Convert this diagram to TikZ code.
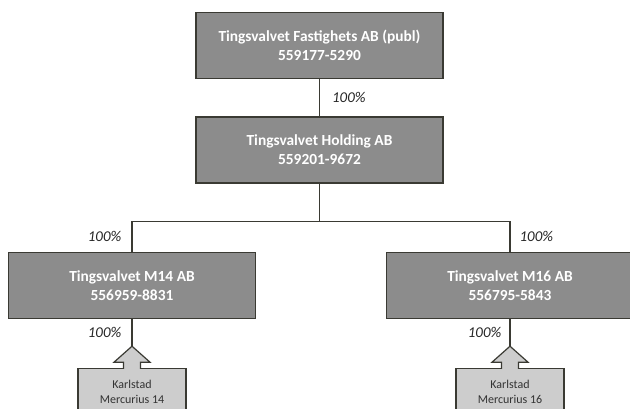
\documentclass[tikz,border=0pt]{standalone}
\usepackage{fontspec}
\setmainfont{Carlito}
\usepackage{xcolor}
\definecolor{lineDark}{HTML}{3A3A33}
\definecolor{companyFill}{HTML}{8C8C8C}
\definecolor{propertyFill}{HTML}{CDCDCD}
\usepackage{tikz}
\usetikzlibrary{positioning,calc}
\tikzset{%
  companyBox/.style={%
    rectangle,
    draw=lineDark,
    line width=1.4pt,
    fill=companyFill,
    text=white,
    font=\bfseries\fontsize{15.4}{18.5}\selectfont,
    align=center,
    minimum width=247pt,
    minimum height=66pt,
    inner sep=0pt
  },
  propertyBox/.style={%
    rectangle,
    draw=lineDark,
    line width=1.2pt,
    fill=propertyFill,
    text=black!80,
    font=\fontsize{12}{14.5}\selectfont,
    align=center,
    minimum width=108pt,
    minimum height=46pt,
    inner sep=0pt
  },
  ownLine/.style={%
    draw=lineDark,
    line width=1.2pt
  },
  shareLabel/.style={%
    font=\itshape\fontsize{15}{17}\selectfont,
    text=black!85,
    inner sep=0pt
  },
  upArrow/.style={%
    draw=lineDark,
    line width=1.2pt,
    fill=propertyFill,
    line join=miter
  }
}

\begin{document}
\begin{tikzpicture}[x=1pt,y=-1pt]
            \useasboundingbox (0,0) rectangle (630,409);
            \clip (0,0) rectangle (630,409);

            \node[companyBox] (publ) at (319.5,45.5) {Tingsvalvet Fastighets AB (publ)\\559177-5290};
            \node[companyBox, below=37pt of publ] (holding) {Tingsvalvet Holding AB\\559201-9672};
            \node[companyBox] (m14) at (132,285.5) {Tingsvalvet M14 AB\\556959-8831};
            \node[companyBox] (m16) at (510,285.5) {Tingsvalvet M16 AB\\556795-5843};

            \coordinate (tip14) at ($(m14.south)+(0,27)$);
            \coordinate (tip16) at ($(m16.south)+(0,27)$);
            \node[propertyBox, below=22pt of tip14] (k14) {Karlstad\\Mercurius 14};
            \node[propertyBox, below=22pt of tip16] (k16) {Karlstad\\Mercurius 16};

            \draw[ownLine] (publ) -- node[shareLabel, right=12pt]{100\%} (holding);
            \draw[ownLine] (holding.south) -- ++(0,38) coordinate (split);
            \draw[ownLine] (split) -| node[shareLabel, pos=0.75, left=10pt]{100\%} (m14.north);
            \draw[ownLine] (split) -| node[shareLabel, pos=0.75, right=9pt]{100\%} (m16.north);

            \draw[ownLine] (m14) -- node[shareLabel, left=10pt]{100\%} (tip14);
            \draw[ownLine] (m16) -- node[shareLabel, left=8pt]{100\%} (tip16);

            % arrows up from the properties
            \draw[upArrow] ($(k14.north)+(8.5,0.7)$) -- ++(0,-6.7) -- ++(9.5,0) -- (tip14)
              -- ++(-18,16) -- ++(9.5,0) -- ++(0,6.7);
            \draw[upArrow] ($(k16.north)+(8.5,0.7)$) -- ++(0,-6.7) -- ++(9.5,0) -- (tip16)
              -- ++(-18,16) -- ++(9.5,0) -- ++(0,6.7);
        \end{tikzpicture}
\end{document}
